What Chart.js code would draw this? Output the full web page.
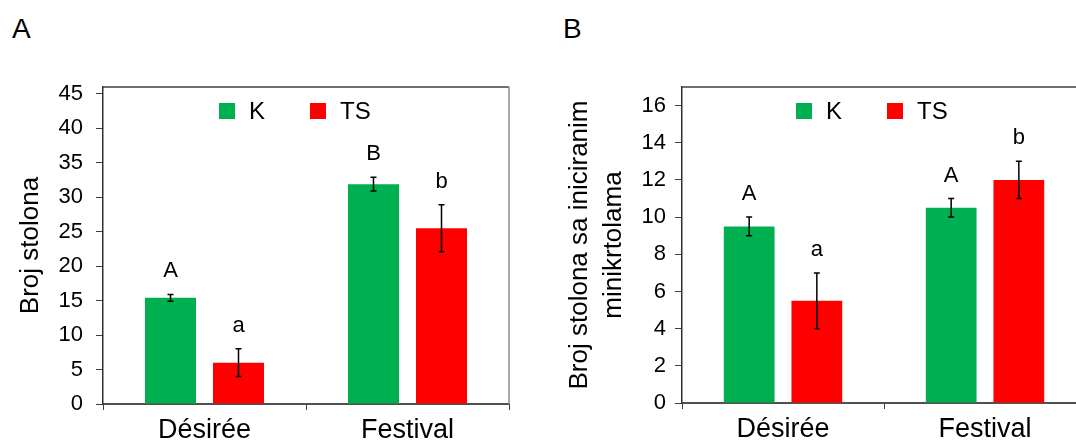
<!DOCTYPE html>
<html>
<head>
<meta charset="utf-8">
<script src="https://cdn.jsdelivr.net/npm/chart.js@4.4.1/dist/chart.umd.min.js"></script>
<style>
  html, body { margin: 0; padding: 0; width: 1076px; height: 441px; overflow: hidden; background: #fff; }
  .wrap { position: absolute; top: 0; }
  .panel-label { position: absolute; font-family: "Liberation Sans", Arial, sans-serif; font-size: 28px; line-height: 28px; color: #000; }
</style>
</head>
<body>
<div class="panel-label" style="left:12px; top:15px;">A</div>
<div class="panel-label" style="left:563px; top:15px;">B</div>
<div class="wrap" style="left:0px;"><canvas id="chartA" width="540" height="441"></canvas></div>
<div class="wrap" style="left:540px;"><canvas id="chartB" width="560" height="441"></canvas></div>
<script>
// ---- data ----
const categories = ['Désirée', 'Festival'];
const seriesNames = ['K', 'TS'];

// Panel A: Broj stolona
const stolonK = [15.4, 31.9];
const stolonKErr = [0.5, 1.0];
const stolonTS = [6.0, 25.5];
const stolonTSErr = [2.0, 3.4];
const lettersA_K = ['A', 'B'];
const lettersA_TS = ['a', 'b'];
const yMaxA = 46;
const yTicksA = [0, 5, 10, 15, 20, 25, 30, 35, 40, 45];

// Panel B: Broj stolona sa iniciranim minikrtolama
const minitK = [9.5, 10.5];
const minitKErr = [0.5, 0.5];
const minitTS = [5.5, 12.0];
const minitTSErr = [1.5, 1.0];
const lettersB_K = ['A', 'A'];
const lettersB_TS = ['a', 'b'];
const yMaxB = 17;
const yTicksB = [0, 2, 4, 6, 8, 10, 12, 14, 16];

const titleA = 'Broj stolona';
const titleB = ['Broj stolona sa iniciranim', 'minikrtolama'];

// ---- styles ----
const GREEN = '#00B050';
const RED = '#FF0000';
const FONT = '"Liberation Sans", Arial, sans-serif';
Chart.defaults.font.family = FONT;
Chart.defaults.color = '#000';

const errorBarsPlugin = {
  id: 'errorBars',
  afterDatasetsDraw(chart, args, opts) {
    const ctx = chart.ctx;
    const yScale = chart.scales.y;
    chart.data.datasets.forEach((ds, di) => {
      const meta = chart.getDatasetMeta(di);
      meta.data.forEach((bar, i) => {
        const v = ds.data[i], e = ds.errors[i];
        const yTop = yScale.getPixelForValue(v + e);
        const yBot = yScale.getPixelForValue(v - e);
        ctx.save();
        ctx.strokeStyle = '#000';
        ctx.lineWidth = 1.5;
        ctx.beginPath();
        ctx.moveTo(bar.x, yTop); ctx.lineTo(bar.x, yBot);
        ctx.moveTo(bar.x - 3, yTop); ctx.lineTo(bar.x + 3, yTop);
        ctx.moveTo(bar.x - 3, yBot); ctx.lineTo(bar.x + 3, yBot);
        ctx.stroke();
        ctx.fillStyle = '#000';
        ctx.font = '22px ' + FONT;
        ctx.textAlign = 'center';
        ctx.textBaseline = 'alphabetic';
        ctx.fillText(ds.letters[i], bar.x, yTop - 17);
        ctx.restore();
      });
    });
  }
};

const boxPlugin = {
  id: 'boxLines',
  afterDraw(chart) {
    const {ctx, chartArea: a} = chart;
    ctx.save();
    ctx.lineWidth = 1.5;
    ctx.strokeStyle = '#404040';
    ctx.beginPath(); ctx.moveTo(a.left, a.top); ctx.lineTo(a.right, a.top); ctx.stroke();
    ctx.strokeStyle = '#8c8c8c';
    ctx.beginPath(); ctx.moveTo(a.right, a.top); ctx.lineTo(a.right, a.bottom); ctx.stroke();
    ctx.restore();
  }
};

const inLegendPlugin = {
  id: 'inLegend',
  afterDraw(chart, args, opts) {
    const {ctx, chartArea: a} = chart;
    ctx.save();
    ctx.font = '24px ' + FONT;
    ctx.textBaseline = 'middle';
    ctx.textAlign = 'left';
    chart.data.datasets.forEach((ds, i) => {
      const x = a.left + opts.x + i * opts.gap;
      const y = a.top + opts.y;
      ctx.fillStyle = ds.backgroundColor;
      ctx.fillRect(x, y, 16, 16);
      ctx.fillStyle = '#000';
      ctx.fillText(ds.label, x + 30, y + 9);
    });
    ctx.restore();
  }
};

function makeChart(id, dataK, errK, letK, dataTS, errTS, letTS, yMax, yTickVals, title, cfg) {
  return new Chart(document.getElementById(id), {
    type: 'bar',
    data: {
      labels: categories,
      datasets: [
        { label: seriesNames[0], data: dataK, errors: errK, letters: letK, backgroundColor: GREEN },
        { label: seriesNames[1], data: dataTS, errors: errTS, letters: letTS, backgroundColor: RED }
      ]
    },
    options: {
      responsive: false,
      animation: false,
      events: [],
      datasets: { bar: { categoryPercentage: 0.67, barPercentage: 0.75 } },
      layout: { padding: { top: 87, right: cfg.right, left: 0, bottom: 0 } },
      plugins: {
        legend: { display: false },
        tooltip: { enabled: false },
        inLegend: { x: cfg.legX, y: 16, gap: 91 }
      },
      scales: {
        x: {
          grid: { offset: true, drawOnChartArea: false, tickLength: 6, color: '#404040', lineWidth: 1 },
          border: { color: '#505050', width: 2 },
          ticks: { font: { size: 27 }, color: '#000', padding: 4 },
          afterFit: s => { s.height = cfg.xh; }
        },
        y: {
          min: 0, max: yMax,
          ticks: { padding: cfg.tickPad, font: { size: 22 }, color: '#000', autoSkip: false },
          grid: { drawOnChartArea: false, tickLength: 7, color: '#404040' },
          border: { color: '#303030', width: 1.5 },
          title: { display: true, text: title, font: { size: 26, lineHeight: 1.3 }, color: '#000', padding: { top: cfg.titlePad, bottom: 0 } },
          afterBuildTicks: s => { s.ticks = yTickVals.map(v => ({ value: v })); },
          afterFit: s => { s.width = cfg.yw; }
        }
      }
    },
    plugins: [errorBarsPlugin, boxPlugin, inLegendPlugin]
  });
}

makeChart('chartA', stolonK, stolonKErr, lettersA_K, stolonTS, stolonTSErr, lettersA_TS, yMaxA, yTicksA, titleA,
  { right: 31, xh: 37, yw: 103, tickPad: 13, titlePad: 14, legX: 116 });
makeChart('chartB', minitK, minitKErr, lettersB_K, minitTS, minitTSErr, lettersB_TS, yMaxB, yTicksB, titleB,
  { right: 14, xh: 38, yw: 142, tickPad: 9, titlePad: 23, legX: 114 });
</script>
</body>
</html>
